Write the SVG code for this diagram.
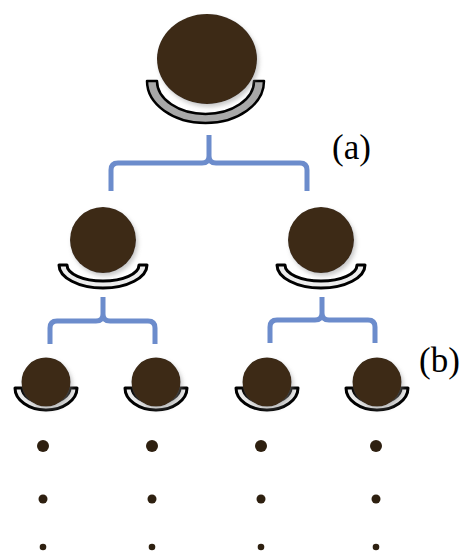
<svg xmlns="http://www.w3.org/2000/svg" width="466" height="557" viewBox="0 0 466 557">
<defs>
<filter id="sh" x="-30%" y="-30%" width="160%" height="160%">
<feDropShadow dx="2" dy="3" stdDeviation="2" flood-color="#888" flood-opacity="0.45"/>
</filter>
</defs>
<style>
.ball{fill:#3c2b19;filter:url(#sh)}
.bowl0{fill:#a8a8a8;stroke:#000;stroke-width:2.5;stroke-linejoin:round}
.bowl{fill:#ececec;stroke:#000;stroke-width:3;stroke-linejoin:round}
.br{fill:none;stroke:#6c8ccc;stroke-width:5}
.dot{fill:#2e2010}
.lbl{font-family:"Liberation Serif",serif;font-size:35px;fill:#000}
</style>
<rect width="466" height="557" fill="#fff"/>
<g id="connectors">
<path class="br" d="M111,191 V170 Q111,163 118,163 H202 Q209,163 209,156 V135 M209,156 Q209,163 216,163 H300 Q307,163 307,170 V191"/>
<path class="br" d="M50,344 V328 Q50,321 57,321 H96 Q103,321 103,314 V297 M103,314 Q103,321 110,321 H148 Q155,321 155,328 V344"/>
<path class="br" d="M270,343 V327 Q270,320 277,320 H315 Q322,320 322,313 V297 M322,313 Q322,320 329,320 H368 Q375,320 375,327 V343"/>
</g>
<g id="root">
<path class="bowl0" d="M147,81 A58.5,42 0 0 0 264,81 L254,81 A48.5,33 0 0 1 157,81 Z"/>
<ellipse class="ball" cx="207" cy="59" rx="50" ry="45"/>
</g>
<g id="mid-left">
<path class="bowl" d="M59,265 A44,23 0 0 0 147,265 L139,265 A36,16 0 0 1 67,265 Z"/>
<circle class="ball" cx="103" cy="240" r="33"/>
</g>
<g id="mid-right">
<path class="bowl" d="M277,265 A44,23 0 0 0 365,265 L357,265 A36,16 0 0 1 285,265 Z"/>
<circle class="ball" cx="321" cy="240" r="33"/>
</g>
<g id="leaf1">
<path class="bowl" d="M15,388 A31,22 0 0 0 77,388 L70,388 A24,15 0 0 1 22,388 Z"/>
<circle class="ball" cx="46" cy="382" r="24.5"/>
</g>
<g id="leaf2">
<path class="bowl" d="M125,388 A31,22 0 0 0 187,388 L180,388 A24,15 0 0 1 132,388 Z"/>
<circle class="ball" cx="156" cy="382" r="24.5"/>
</g>
<g id="leaf3">
<path class="bowl" d="M236,388 A31,22 0 0 0 298,388 L291,388 A24,15 0 0 1 243,388 Z"/>
<circle class="ball" cx="267" cy="382" r="24.5"/>
</g>
<g id="leaf4">
<path class="bowl" d="M346,388 A31,22 0 0 0 408,388 L401,388 A24,15 0 0 1 353,388 Z"/>
<circle class="ball" cx="377" cy="382" r="24.5"/>
</g>
<g id="dots">
<circle class="dot" cx="43" cy="446" r="6"/>
<circle class="dot" cx="152" cy="446" r="6"/>
<circle class="dot" cx="261" cy="446" r="6"/>
<circle class="dot" cx="376" cy="446" r="6"/>
<circle class="dot" cx="43" cy="499" r="4.5"/>
<circle class="dot" cx="152" cy="499" r="4.5"/>
<circle class="dot" cx="261" cy="499" r="4.5"/>
<circle class="dot" cx="376" cy="499" r="4.5"/>
<circle class="dot" cx="43" cy="547" r="3.3"/>
<circle class="dot" cx="152" cy="547" r="3.3"/>
<circle class="dot" cx="261" cy="547" r="3.3"/>
<circle class="dot" cx="376" cy="547" r="3.3"/>
</g>
<g id="labels">
<text class="lbl" x="332" y="159">(a)</text>
<text class="lbl" x="419" y="372">(b)</text>
</g>
</svg>
